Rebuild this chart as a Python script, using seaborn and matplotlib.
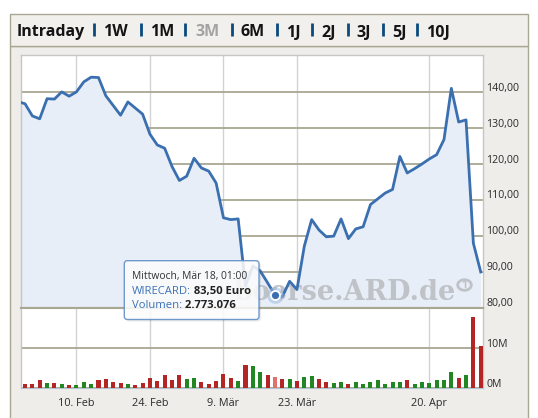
import matplotlib
matplotlib.use("Agg")
import matplotlib.pyplot as plt
import matplotlib.transforms as mtransforms
from matplotlib.patches import Rectangle, FancyBboxPatch, Circle
import numpy as np
import pandas as pd
import seaborn as sns

# --- data (Wirecard) ---
# trading days of the view, Frankfurt closed on Good Friday and Easter Monday
trading_days = pd.bdate_range("2020-01-30", "2020-04-29", freq="C",
                              holidays=["2020-04-10", "2020-04-13"])

prev_close = 137.4  # day before the view, only gives the line its entry slope
close_prices = [
    136.8, 133.4, 132.6, 138.2, 138.1, 140.1, 138.9, 140.1, 142.9, 144.2,
    144.1, 139.0, 136.3, 133.6, 137.3, 135.6, 133.9, 128.3, 125.3, 124.4,
    119.3, 115.4, 116.6, 121.6, 118.9, 118.0, 114.7, 105.0, 104.5, 104.7,
    86.0, 91.6, 90.2, 86.9, 83.5, 83.0, 87.3, 85.0, 97.1, 104.5,
    101.6, 99.7, 99.9, 104.7, 99.2, 101.9, 102.5, 108.7, 110.3, 111.9,
    112.9, 122.1, 117.5, 118.7, 120.0, 121.4, 122.6, 126.8, 141.1, 131.7,
    132.3, 97.9, 89.9,
]
volumes_mio = [
    1.08, 1.08, 2.08, 1.33, 1.33, 1.08, 0.83, 0.83, 1.58, 1.08,
    2.08, 2.33, 1.58, 1.33, 1.08, 0.83, 1.33, 2.58, 1.83, 3.33,
    2.08, 3.33, 2.33, 2.58, 1.58, 1.08, 1.83, 3.58, 2.58, 1.83,
    5.83, 5.58, 4.08, 3.33, 2.77, 2.33, 2.33, 1.83, 2.83, 3.08,
    2.33, 1.58, 1.33, 1.58, 1.08, 1.58, 1.08, 1.58, 2.08, 1.08,
    1.58, 1.58, 2.08, 1.08, 1.58, 1.33, 2.08, 2.08, 4.08, 2.58,
    3.33, 17.75, 10.58,
]
# u = up day (green volume bar), d = down day (red)
direction = list("dddududuuu" "dddduddddd" "dduudddddu" "duuddduduu"
                 "dduuduuuuu" "uuduuuuuud" "udd")

tick_dates = ["2020-02-10", "2020-02-24", "2020-03-09", "2020-03-23", "2020-04-20"]
tick_labels = ["10. Feb", "24. Feb", "9. Mär", "23. Mär", "20. Apr"]
price_ticks = [80, 90, 100, 110, 120, 130, 140]
volume_ticks = [0, 10]
volume_labels = ["0M", "10M"]

periods = ["Intraday", "1W", "1M", "3M", "6M", "1J", "2J", "3J", "5J", "10J"]
active_period = "3M"

hover_date = "2020-03-18"
hover_title = "Mittwoch, Mär 18, 01:00"
hover_name = "WIRECARD"
hover_price = "83,50 Euro"
hover_volume = "2.773.076"

# --- colours ---
LINE = "#3a6fb0"
FILL = "#e8eef7"
GREEN = "#129612"
RED = "#cc0d0d"
RED_HOVER = "#f0605c"
OLIVE = "#a8a792"
LIGHT = "#d2d2d2"
BODY = "#eeede9"
TEXT = "#2a2a2a"
MARK = "#bfc2c7"

plt.rcParams["font.family"] = ["Open Sans", "DejaVu Sans"]

W, H = 538, 418
fig = plt.figure(figsize=(W / 100, H / 100), dpi=100)


def box(x0, y0, x1, y1):
    # pixel box -> figure fractions
    return [x0 / W, 1 - y1 / H, (x1 - x0) / W, (y1 - y0) / H]


# background frame (pixel coordinates)
under = fig.add_axes([0, 0, 1, 1], zorder=-1)
under.set_xlim(0, W)
under.set_ylim(H, 0)
under.axis("off")
under.add_patch(Rectangle((10.3, 46), 517.7, 380, facecolor=BODY, edgecolor=OLIVE, lw=1))
under.add_patch(Rectangle((10.3, 13.7), 517.7, 32.5, facecolor="#f1f0ec", edgecolor=OLIVE, lw=1))

# price and volume panels
ax_p = fig.add_axes(box(20.7, 55.3, 483.3, 307.5))
ax_v = fig.add_axes(box(20.7, 307.5, 483.3, 388.3))

pos = np.arange(len(trading_days))
line_x = np.r_[-1, pos]
line_y = np.r_[prev_close, close_prices]

ax_p.fill_between(line_x, line_y, 80, color=FILL, lw=0, zorder=1)
sns.lineplot(x=line_x, y=line_y, ax=ax_p, color=LINE, linewidth=2, zorder=3)

day_str = trading_days.strftime("%Y-%m-%d").tolist()
hover_idx = day_str.index(hover_date)
kind = ["hover" if i == hover_idx else d for i, d in enumerate(direction)]
sns.barplot(x=pos, y=volumes_mio, hue=kind, native_scale=True, dodge=False,
            palette={"u": GREEN, "d": RED, "hover": RED_HOVER},
            width=0.55, legend=False, ax=ax_v, zorder=3)

xticks = [day_str.index(d) for d in tick_dates]
for ax in (ax_p, ax_v):
    ax.set_xlim(-0.585, 62.35)
    ax.set_xticks(xticks)
    ax.grid(axis="x", color=LIGHT, lw=1)
    ax.grid(axis="y", color=OLIVE, lw=1.3)
    ax.set_axisbelow(True)
    ax.yaxis.tick_right()
    ax.tick_params(axis="y", length=0, pad=2.2, labelsize=7.6, labelcolor=TEXT)
    ax.set_xlabel("")
    ax.set_ylabel("")
    for s in ("left", "right", "top"):
        ax.spines[s].set_color("#c6c6c6")
        ax.spines[s].set_linewidth(1)

ax_p.set_ylim(80, 150.3)
ax_p.set_yticks(price_ticks)
ax_p.set_yticklabels([f"{v:.2f}".replace(".", ",") for v in price_ticks])
ax_p.tick_params(axis="x", length=0, labelbottom=False)
ax_p.spines["bottom"].set_color(OLIVE)
ax_p.spines["bottom"].set_linewidth(1.5)

ax_v.set_ylim(0, 20.2)
ax_v.set_yticks(volume_ticks)
ax_v.set_yticklabels(volume_labels)
ax_v.set_xticklabels(tick_labels)
ax_v.tick_params(axis="x", length=0, pad=7, labelsize=7.8, labelcolor=TEXT)
ax_v.spines["top"].set_color(OLIVE)
ax_v.spines["top"].set_linewidth(1.5)
ax_v.spines["bottom"].set_color("#b4c3d3")

# labels sit a little above their grid line
lift = mtransforms.ScaledTranslation(0, 5.5 / 100, fig.dpi_scale_trans)
for ax in (ax_p, ax_v):
    for lab in ax.get_yticklabels():
        lab.set_transform(lab.get_transform() + lift)

# watermark between fill and line
ax_p.text(456 / W, 1 - 300.5 / H, "boerse.ARD.de", transform=fig.transFigure,
          ha="right", va="baseline", fontsize=19.5, family="DejaVu Serif",
          weight="bold", color=MARK, zorder=2)
ax_p.add_patch(Circle((464.5 / W, 1 - 285 / H), 6.8 / W, transform=fig.transFigure,
                      facecolor="none", edgecolor=MARK, lw=2, zorder=2))
ax_p.text(464.5 / W, 1 - 285 / H, "1", transform=fig.transFigure, ha="center",
          va="center", fontsize=7.5, weight="bold", color=MARK, zorder=2)

# hovered point
ax_p.plot(hover_idx, close_prices[hover_idx], "o", ms=12, color="#9dbbe0",
          alpha=0.55, mec="none", zorder=4, clip_on=False)
ax_p.plot(hover_idx, close_prices[hover_idx], "o", ms=6.5, color=LINE,
          mec="white", mew=1.3, zorder=5, clip_on=False)

# overlay: header tabs and tooltip (pixel coordinates)
over = fig.add_axes([0, 0, 1, 1], zorder=10)
over.set_xlim(0, W)
over.set_ylim(H, 0)
over.axis("off")

tab_x = [16.4, 103.4, 150.0, 195.9, 240.8, 286.3, 321.2, 356.8, 391.8, 426.4]
sep_x = [93.8, 140.8, 185.3, 231.8, 276.7, 312.3, 347.6, 382.5, 417.1]
for label, x in zip(periods, tab_x):
    over.text(x, 32.5, label, ha="left", va="center", fontsize=11.5, weight="bold",
              color="#a3a3a3" if label == active_period else "#141414")
for x in sep_x:
    over.plot([x, x], [23.3, 36], color="#0c4a7e", lw=2, solid_capstyle="butt")

over.add_patch(FancyBboxPatch((126.3, 262.7), 134.7, 58.8, boxstyle="round,pad=0,rounding_size=3",
                              facecolor="black", alpha=0.08, lw=0))
over.add_patch(FancyBboxPatch((124.3, 260.7), 134.7, 58.8, boxstyle="round,pad=0,rounding_size=3",
                              facecolor="white", alpha=0.86, edgecolor="#5a8ac6", lw=1))
over.text(132.3, 276, hover_title, ha="left", va="center", fontsize=7.4, color="#333333")
t1 = over.text(132.3, 291.5, hover_name + ":", ha="left", va="center", fontsize=8.1,
               color="#3b72b8")
over.annotate(" " + hover_price, xy=(1, 0), xycoords=t1, ha="left", va="bottom",
              fontsize=8.1, weight="bold", color="#222222")
t2 = over.text(132.3, 306, "Volumen:", ha="left", va="center", fontsize=8.1, color="#3b72b8")
over.annotate(" " + hover_volume, xy=(1, 0), xycoords=t2, ha="left", va="bottom",
              fontsize=8.1, weight="bold", color="#222222")

fig.savefig("out.png", dpi=100)
